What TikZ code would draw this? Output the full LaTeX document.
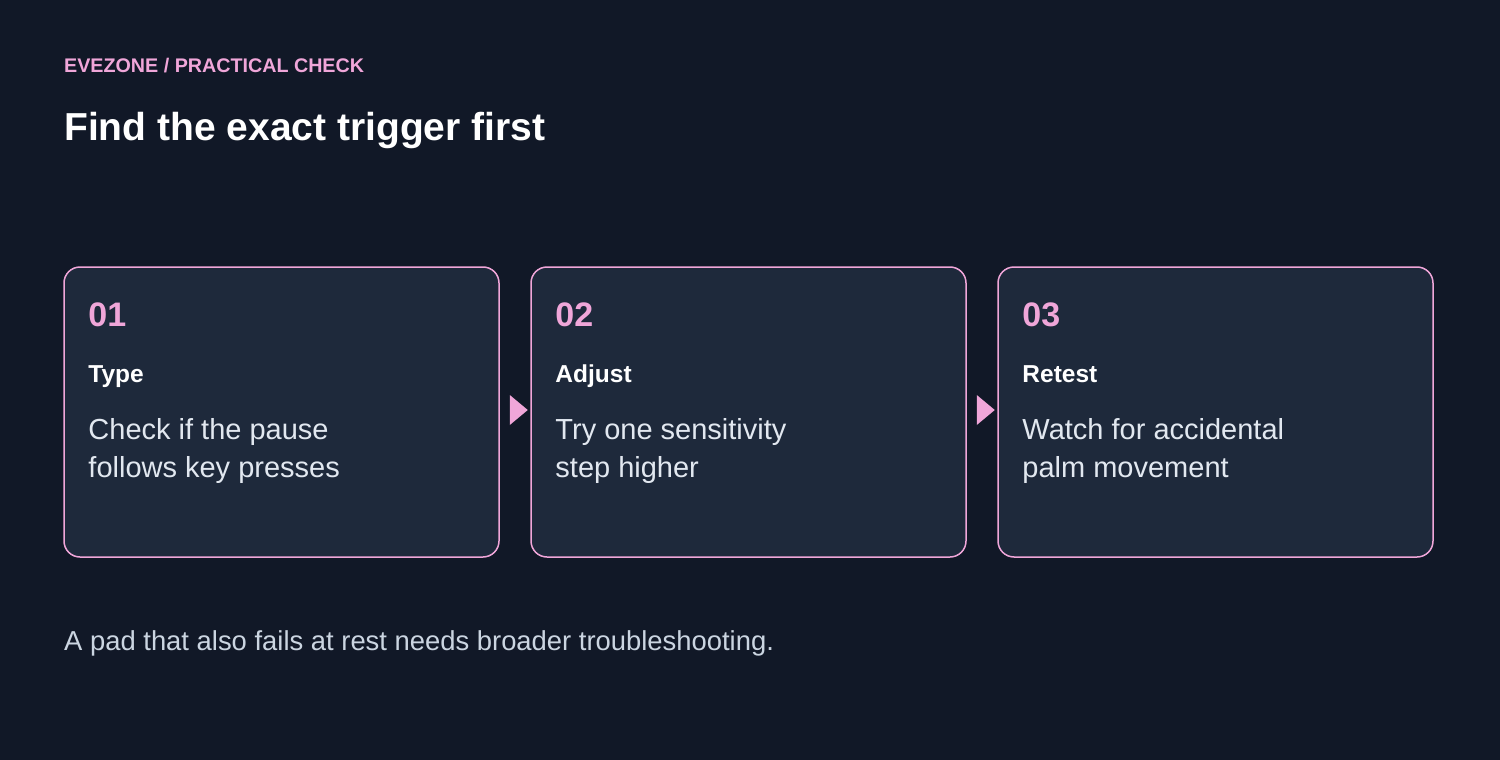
\documentclass[tikz,border=0pt]{standalone}
\usepackage{fontspec}
\setmainfont{Liberation Sans}
\usetikzlibrary{calc}
\definecolor{pagebg}{HTML}{111827}
\definecolor{cardbg}{HTML}{1E293B}
\definecolor{accent}{HTML}{F0A6D9}
\definecolor{bodytxt}{HTML}{E2E8F0}
\definecolor{notetxt}{HTML}{CBD5E1}

\begin{document}
\begin{tikzpicture}[x=1pt, y=-1pt,
  txt/.style={anchor=base west, inner sep=0pt},
  card/.style={draw=accent, line width=1.5pt, fill=cardbg, rounded corners=16pt,
    minimum width=435pt, minimum height=290pt, inner sep=0pt},
  num/.style={txt, text=accent, font=\fontsize{34}{40}\selectfont\bfseries},
  head/.style={txt, text=white, font=\fontsize{24.5}{29}\selectfont\bfseries},
  body/.style={txt, text=bodytxt, font=\fontsize{29}{35}\selectfont}]
  \fill[pagebg] (0,0) rectangle (1500,760);
  \node[txt, text=accent, font=\fontsize{19.7}{24}\selectfont\bfseries] (tag) at (64,73) {EVEZONE / PRACTICAL CHECK};
  \node[txt, text=white, font=\fontsize{39}{46}\selectfont\bfseries] (title) at (64,140) {Find the exact trigger first};
  \foreach \i/\x/\head/\la/\lb in {1/281.5/Type/Check if the pause/follows key presses,
      2/748.5/Adjust/Try one sensitivity/step higher,
      3/1215.5/Retest/Watch for accidental/palm movement}{
    \node[card] (c\i) at (\x,412) {};
    \node[num] (n\i) at ($(c\i.north west)+(25,60)$) {0\i};
    \node[head] (h\i) at ($(c\i.north west)+(25,116)$) {\head};
    \node[body] (a\i) at ($(c\i.north west)+(25,173)$) {\la};
    \node[body] (b\i) at ($(c\i.north west)+(25,211)$) {\lb};
  }
  \foreach \i in {1,2}
    \fill[accent] ($(c\i.east)+(10,-17)$) -- ++(18,15) -- ++(-18,15) -- cycle;
  \node[txt, text=notetxt, font=\fontsize{27.4}{33}\selectfont] (note) at (64,650) {A pad that also fails at rest needs broader troubleshooting.};
\end{tikzpicture}
\end{document}
